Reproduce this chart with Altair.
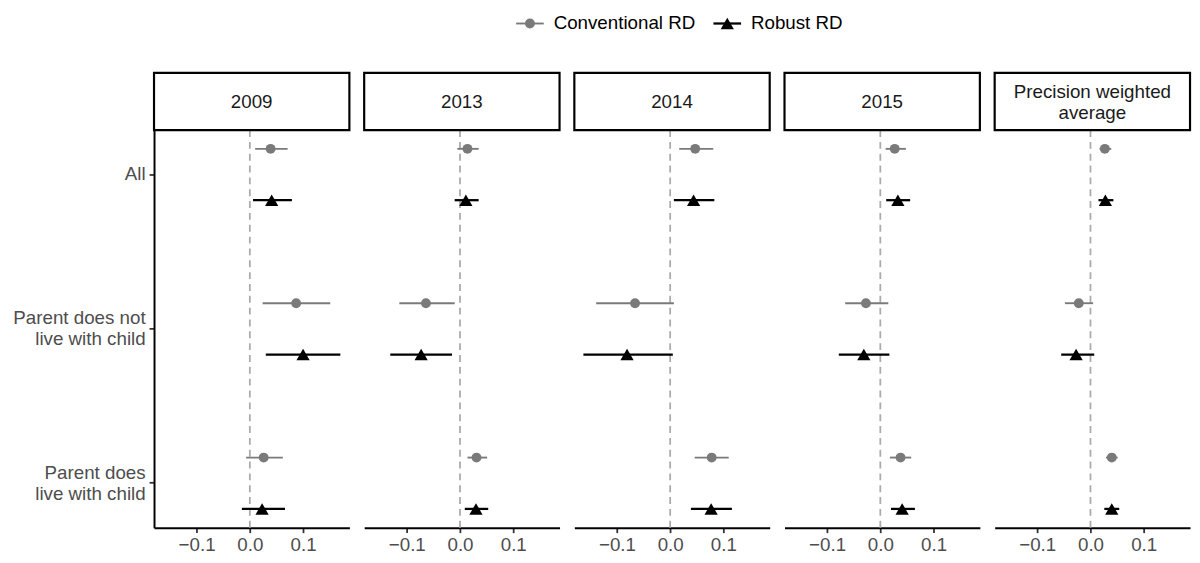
import altair as alt
import pandas as pd

panels = ["2009", "2013", "2014", "2015", "Precision weighted average"]
panel_titles = ["2009", "2013", "2014", "2015", "Precision weighted|average"]
groups = ["All", "Parent does not live with child", "Parent does live with child"]
group_labels = ["All", "Parent does not|live with child", "Parent does|live with child"]
series = ["Conventional RD", "Robust RD"]
x_ticks = [-0.1, 0.0, 0.1]

# rows: panels; columns: groups
conv_est = [[0.039, 0.087, 0.026], [0.014, -0.064, 0.031], [0.047, -0.066, 0.078],
            [0.027, -0.027, 0.038], [0.027, -0.022, 0.040]]
conv_lo = [[0.010, 0.024, -0.007], [-0.005, -0.114, 0.014], [0.017, -0.139, 0.046],
           [0.010, -0.066, 0.018], [0.017, -0.048, 0.029]]
conv_hi = [[0.071, 0.151, 0.062], [0.035, -0.010, 0.051], [0.081, 0.007, 0.110],
           [0.048, 0.015, 0.058], [0.039, 0.005, 0.051]]
rob_est = [[0.041, 0.100, 0.023], [0.011, -0.073, 0.030], [0.044, -0.081, 0.077],
           [0.033, -0.031, 0.041], [0.028, -0.027, 0.040]]
rob_lo = [[0.006, 0.030, -0.015], [-0.010, -0.131, 0.009], [0.007, -0.163, 0.039],
          [0.011, -0.078, 0.020], [0.015, -0.055, 0.026]]
rob_hi = [[0.079, 0.170, 0.066], [0.035, -0.015, 0.053], [0.083, 0.005, 0.116],
          [0.056, 0.017, 0.065], [0.043, 0.007, 0.054]]

rows = []
for i, p in enumerate(panels):
    for j, g in enumerate(groups):
        rows.append(dict(panel=p, group=g, series=series[0],
                         est=conv_est[i][j], lo=conv_lo[i][j], hi=conv_hi[i][j]))
        rows.append(dict(panel=p, group=g, series=series[1],
                         est=rob_est[i][j], lo=rob_lo[i][j], hi=rob_hi[i][j]))
df = pd.DataFrame(rows)

FONT = "Liberation Sans"
W, STRIP, PLOT = 198, 58, 403
H = STRIP + PLOT
LH = 21
GRAY = "#7A7A7A"

color_scale = alt.Scale(domain=series, range=[GRAY, "#000000"])
width_scale = alt.Scale(domain=series, range=[1.9, 2.3])
shape_scale = alt.Scale(domain=series, range=["circle", "triangle-up"])
size_scale = alt.Scale(domain=series, range=[100, 180])

# y label expression (multi-line)
expr = "datum.label"
for g, lab in reversed(list(zip(groups, group_labels))):
    expr = f"datum.label == '{g}' ? split('{lab}', '|') : ({expr})"
single = [g for g, lab in zip(groups, group_labels) if "|" not in lab]
single_test = " || ".join(f"datum.label == '{g}'" for g in single)

x_label_expr = "datum.value < 0 ? '\u2212' + format(-datum.value, '.1f') : format(datum.value, '.1f')"


def panel(i):
    d = df[df.panel == panels[i]]
    base = alt.Chart(d)
    yaxis = alt.Axis(title=None, labelExpr=expr, labelFontSize=19, labelColor="#4D4D4D",
                     labelFont=FONT, labelLineHeight=LH, labelPadding=4, labelLimit=400,
                     labelOffset={"condition": {"test": single_test, "value": 0}, "value": -LH / 2},
                     tickSize=5, tickColor="#333333", tickWidth=1.8,
                     domainColor="#000000", domainWidth=2, grid=False, minExtent=148)
    y = alt.Y("group:N", sort=groups,
              scale=alt.Scale(domain=groups, range=[STRIP, H], paddingInner=0.424, paddingOuter=0),
              axis=yaxis if i == 0 else None)
    yoff = alt.YOffset("series:N", sort=series,
                       scale=alt.Scale(domain=series, paddingInner=0.268, paddingOuter=0))
    xscale = alt.Scale(domain=[-0.180, 0.187], nice=False, zero=False)
    xaxis = alt.Axis(title=None, values=x_ticks, labelExpr=x_label_expr, labelFontSize=19,
                     labelColor="#4D4D4D", labelFont=FONT, labelPadding=3, tickSize=5,
                     tickColor="#333333", tickWidth=1.8, domainColor="#000000", domainWidth=2,
                     grid=False, labelFlush=False)

    zero = alt.Chart(pd.DataFrame({"zero": [0.0]})).mark_rule(
        color="#ABABAB", strokeWidth=1.8, strokeDash=[7, 5]
    ).encode(x=alt.X("zero:Q", scale=xscale, axis=xaxis, title=None),
             y=alt.value(STRIP), y2=alt.value(H))

    bars = base.mark_rule().encode(
        x=alt.X("lo:Q", scale=xscale, axis=xaxis, title=None),
        x2="hi:Q",
        y=y, yOffset=yoff,
        color=alt.Color("series:N", scale=color_scale, legend=None),
        strokeWidth=alt.StrokeWidth("series:N", scale=width_scale, legend=None),
    )
    pts = base.mark_point(filled=True, opacity=1).encode(
        x=alt.X("est:Q", scale=xscale, axis=xaxis, title=None),
        y=y, yOffset=yoff,
        color=alt.Color("series:N", scale=color_scale, legend=None),
        shape=alt.Shape("series:N", scale=shape_scale, legend=None),
        size=alt.Size("series:N", scale=size_scale, legend=None),
    )

    title = panel_titles[i]
    nlines = title.count("|") + 1
    sdf = pd.DataFrame({"title": [title]})
    strip_rect = alt.Chart(sdf).mark_rect(fill="white", stroke="black", strokeWidth=2.2).encode(
        x=alt.value(0), x2=alt.value(W), y=alt.value(0), y2=alt.value(STRIP))
    strip_text = alt.Chart(sdf).mark_text(
        fontSize=19, font=FONT, color="#1A1A1A", lineBreak="|", lineHeight=LH,
        align="center", baseline="middle"
    ).encode(text="title:N", x=alt.value(W / 2),
             y=alt.value(STRIP / 2 + 1 - (nlines - 1) * LH / 2))

    return alt.layer(zero, bars, pts, strip_rect, strip_text).properties(width=W, height=H)


# legend (its origin is aligned with the first panel's plot area)
ldf = pd.DataFrame({"series": series})
lx = alt.X("series:N", sort=series,
           scale=alt.Scale(type="point", domain=series, range=[381, 581], padding=0), axis=None)
leg_line = alt.Chart(ldf).mark_rule(xOffset=-14, x2Offset=14).encode(
    x=lx, x2="series:N", y=alt.value(12),
    color=alt.Color("series:N", scale=color_scale, legend=None),
    strokeWidth=alt.StrokeWidth("series:N", scale=width_scale, legend=None),
)
leg_pts = alt.Chart(ldf).mark_point(filled=True, opacity=1).encode(
    x=lx, y=alt.value(12),
    color=alt.Color("series:N", scale=color_scale, legend=None),
    shape=alt.Shape("series:N", scale=shape_scale, legend=None),
    size=alt.Size("series:N", scale=size_scale, legend=None),
)
leg_text = alt.Chart(ldf).mark_text(align="left", baseline="middle", dx=24, fontSize=19,
                                    font=FONT, color="#000000").encode(
    x=lx, y=alt.value(12), text="series:N")
legend = alt.layer(leg_line, leg_pts, leg_text).properties(width=800, height=24)

grid = alt.hconcat(*[panel(i) for i in range(len(panels))], spacing=11)

chart = alt.vconcat(legend, grid, spacing=36).properties(
    padding={"left": 0, "top": 0, "right": 0, "bottom": 0}, background="white"
).configure(font=FONT, view=alt.ViewConfig(stroke=None))

chart.save("out.html", embed_options={"renderer": "svg", "actions": False})
